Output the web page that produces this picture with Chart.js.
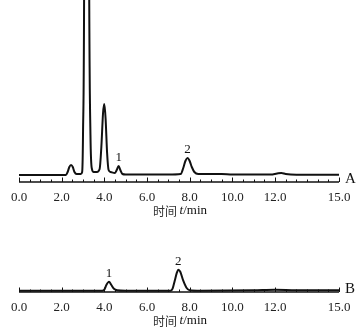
<!DOCTYPE html>
<html>
<head>
<meta charset="utf-8">
<script src="https://cdn.jsdelivr.net/npm/chart.js@4.4.1/dist/chart.umd.min.js"></script>
<style>
  html, body { margin: 0; padding: 0; background: #fff; overflow: hidden; }
  .panel { position: absolute; left: 0; width: 364px; }
  #boxA { top: 0; height: 222px; }
  #boxB { top: 250px; height: 82px; }
</style>
</head>
<body>
<div class="panel" id="boxA"><canvas id="chartA"></canvas></div>
<div class="panel" id="boxB"><canvas id="chartB"></canvas></div>
<script>
// eje de tiempo (min)
var majorTicks = [0, 2, 4, 6, 8, 10, 12, 15];
var tickLabels = ["0.0", "2.0", "4.0", "6.0", "8.0", "10.0", "12.0", "15.0"];
var minorStep = 0.5;

// cromatograma A (muestra)
var timeA = [0, 2.2, 2.28, 2.36, 2.44, 2.52, 2.6, 2.7, 2.9, 2.96, 3.0, 3.06, 3.1, 3.22, 3.28, 3.35, 3.42,
  3.5, 3.65, 3.78, 3.86, 3.94, 4.0, 4.06, 4.13, 4.2, 4.3, 4.5, 4.58, 4.67, 4.75, 4.85, 5.0, 7.0, 7.58,
  7.7, 7.8, 7.9, 8.0, 8.1, 8.22, 8.4, 9.0, 9.5, 10.0, 11.8, 12.1, 12.3, 12.5, 13.0, 15.0];
var signalA = [0, 0, 3, 8, 10, 8, 3, 1, 1, 3, 40, 250, 1000, 1000, 250, 40, 6,
  3, 3, 6, 28, 62, 71, 56, 22, 5, 3, 2, 5, 9, 5, 1, 0.5, 0.5, 1,
  7, 14, 17, 14, 8, 3, 1, 1, 1, 0.5, 0.5, 1.5, 2, 1, 0.3, 0.3];
var peakTimeA = [4.67, 7.9];
var peakHeightA = [9, 17];
var peakNameA = ["1", "2"];

// cromatograma B (patrón)
var timeB = [0, 3.9, 4.0, 4.1, 4.22, 4.32, 4.45, 4.6, 5.0, 7.1, 7.2, 7.3, 7.4, 7.47, 7.56, 7.7, 7.85,
  8.0, 8.5, 11.0, 12.0, 13.0, 15.0];
var signalB = [0, 0, 1, 6, 9, 6, 2, 0.5, 0, 0, 2, 10, 18, 21, 19, 10, 3,
  0.5, 0, 0.5, 1, 0.5, 0.5];
var peakTimeB = [4.22, 7.47];
var peakHeightB = [9, 21];
var peakNameB = ["1", "2"];

var serif = '"Liberation Serif", "Times New Roman", serif';

function toPoints(t, s) {
  return t.map(function (v, i) { return { x: v, y: s[i] }; });
}

// marcas, rótulos de picos, título y letra del panel
var decor = {
  id: "decor",
  afterDraw: function (chart, args, opts) {
    var c = chart.ctx, xs = chart.scales.x, ys = chart.scales.y;
    var a = chart.chartArea;
    c.save();
    c.strokeStyle = "#111";
    c.lineWidth = 1.5;
    c.beginPath();
    c.moveTo(xs.getPixelForValue(0), a.bottom);
    c.lineTo(xs.getPixelForValue(15), a.bottom);
    c.stroke();
    c.lineWidth = 1;
    for (var v = 0; v <= 15.001; v += minorStep) {
      var major = majorTicks.indexOf(v) >= 0;
      var px = Math.round(xs.getPixelForValue(v)) + 0.5;
      c.beginPath();
      c.moveTo(px, a.bottom);
      c.lineTo(px, a.bottom - (major ? 4.5 : 2.5));
      c.stroke();
    }
    c.fillStyle = "#111";
    c.font = "13px " + serif;
    c.textAlign = "center";
    c.textBaseline = "bottom";
    opts.peakTime.forEach(function (t, i) {
      c.fillText(opts.peakName[i], xs.getPixelForValue(t), ys.getPixelForValue(opts.peakHeight[i]) - 2);
    });
    c.font = "15px " + serif;
    c.textAlign = "left";
    c.textBaseline = "middle";
    c.fillText(opts.tag, a.right + 6, a.bottom - 3);
    // título del eje
    var y = a.bottom + 29;
    var p1 = "时间 ", p2 = "t", p3 = "/min";
    c.font = '12px "Noto Sans CJK SC"';
    var w1 = c.measureText(p1).width;
    c.font = "italic 13px " + serif;
    var w2 = c.measureText(p2).width;
    c.font = "13px " + serif;
    var w3 = c.measureText(p3).width;
    var x = 180 - (w1 + w2 + w3) / 2;
    c.font = '12px "Noto Sans CJK SC"';
    c.fillStyle = "#333";
    c.fillText(p1, x, y);
    c.font = "italic 13px " + serif;
    c.fillStyle = "#111";
    c.fillText(p2, x + w1, y);
    c.font = "13px " + serif;
    c.fillText(p3, x + w1 + w2, y);
    c.restore();
  },
};

function makeChart(id, t, s, yMin, yMax, peakTime, peakHeight, peakName, tag) {
  return new Chart(document.getElementById(id), {
    type: "line",
    data: {
      datasets: [{
        data: toPoints(t, s),
        borderColor: "#111",
        borderWidth: 2,
        pointRadius: 0,
        fill: false,
        cubicInterpolationMode: "monotone",
      }],
    },
    options: {
      responsive: true,
      maintainAspectRatio: false,
      animation: false,
      layout: { padding: { left: 19, right: 25, top: 0, bottom: 0 } },
      scales: {
        x: {
          type: "linear",
          min: 0,
          max: 15,
          afterBuildTicks: function (scale) {
            scale.ticks = majorTicks.map(function (v) { return { value: v }; });
          },
          afterFit: function (scale) { scale.height = 40; },
          grid: { display: false, drawTicks: false },
          border: { display: false },
          ticks: {
            autoSkip: false,
            maxRotation: 0,
            padding: 8,
            color: "#222",
            font: { family: serif, size: 13 },
            callback: function (value, index) { return tickLabels[index]; },
          },
        },
        y: { display: false, min: yMin, max: yMax },
      },
      plugins: {
        legend: { display: false },
        tooltip: { enabled: false },
        decor: { peakTime: peakTime, peakHeight: peakHeight, peakName: peakName, tag: tag },
      },
    },
    plugins: [decor],
  });
}

makeChart("chartA", timeA, signalA, -7, 175, peakTimeA, peakHeightA, peakNameA, "A");
makeChart("chartB", timeB, signalB, -1.3, 40.7, peakTimeB, peakHeightB, peakNameB, "B");
</script>
</body>
</html>
